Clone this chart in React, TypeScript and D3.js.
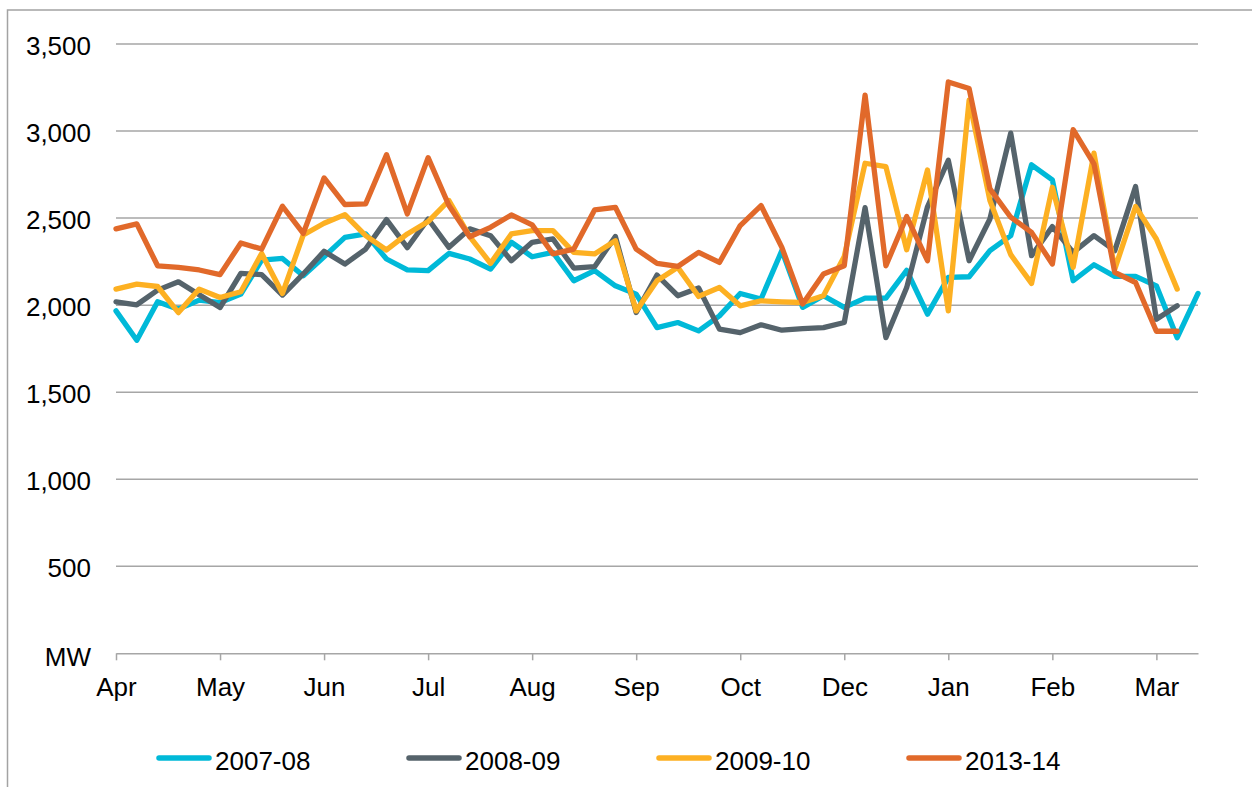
import React, { useEffect, useRef } from 'react';
import * as d3 from 'd3';

// weekly peak demand, MW (53 weekly categories, Apr -> Mar)
const s2007 = [1967, 1798, 2019, 1977, 2029, 2015, 2063, 2259, 2268, 2169, 2278, 2389, 2409, 2265, 2202, 2198, 2297, 2265, 2207, 2361, 2278, 2303, 2140, 2198, 2111, 2063, 1871, 1900, 1852, 1938, 2067, 2035, 2313, 1987, 2054, 1987, 2040, 2040, 2200, 1948, 2159, 2163, 2313, 2399, 2806, 2720, 2140, 2232, 2165, 2165, 2111, 1813, 2067];
const s2008 = [2019, 2002, 2086, 2134, 2059, 1986, 2182, 2175, 2058, 2179, 2309, 2236, 2322, 2491, 2330, 2495, 2332, 2438, 2399, 2255, 2361, 2380, 2213, 2221, 2394, 1958, 2173, 2054, 2098, 1862, 1842, 1887, 1856, 1865, 1871, 1900, 2560, 1813, 2101, 2565, 2832, 2255, 2495, 2988, 2284, 2451, 2303, 2399, 2313, 2681, 1919, 1996];
const s2009 = [2092, 2121, 2107, 1957, 2092, 2044, 2077, 2297, 2067, 2403, 2470, 2520, 2399, 2317, 2409, 2480, 2601, 2394, 2240, 2409, 2428, 2428, 2303, 2294, 2370, 1967, 2140, 2217, 2050, 2101, 1996, 2025, 2019, 2015, 2054, 2280, 2815, 2795, 2318, 2776, 1967, 3177, 2601, 2290, 2125, 2677, 2217, 2873, 2207, 2566, 2380, 2092];
const s2013 = [2438, 2467, 2226, 2217, 2202, 2175, 2357, 2322, 2568, 2412, 2731, 2578, 2582, 2864, 2524, 2847, 2572, 2393, 2447, 2518, 2461, 2294, 2322, 2547, 2562, 2322, 2240, 2222, 2303, 2245, 2457, 2572, 2332, 2006, 2179, 2226, 3206, 2226, 2509, 2255, 3282, 3244, 2668, 2505, 2418, 2236, 3008, 2812, 2188, 2130, 1850, 1850];

const seriesNames = ['2007-08', '2008-09', '2009-10', '2013-14'];
const seriesColors = ['#00b9d8', '#55636b', '#fdb022', '#e1692a'];

const weekCount = 53;
const monthLabels = ['Apr', 'May', 'Jun', 'Jul', 'Aug', 'Sep', 'Oct', 'Dec', 'Jan', 'Feb', 'Mar'];
const labelEvery = 5;

const yTicks = [0, 500, 1000, 1500, 2000, 2500, 3000, 3500];
const yTickLabels = ['MW', '500', '1,000', '1,500', '2,000', '2,500', '3,000', '3,500'];

const App = () => {
    const svgRef = useRef(null);

    useEffect(() => {
        const width = 1252,
            height = 787;
        const font = '"Liberation Sans", Arial, sans-serif';
        const gridColor = '#a6a6a6';

        const svg = d3.select(svgRef.current).attr('width', width).attr('height', height);
        svg.selectAll('*').remove();

        // chart frame (cropped on the right and bottom)
        svg.append('rect')
            .attr('x', 7.5)
            .attr('y', 10)
            .attr('width', 1300)
            .attr('height', 900)
            .attr('fill', 'white')
            .attr('stroke', '#a3a3a3')
            .attr('stroke-width', 1.5);

        const x = d3
            .scalePoint()
            .domain(d3.range(weekCount))
            .range([116, 1198]);

        const y = d3.scaleLinear().domain([0, 3500]).range([653.3, 44]);

        // horizontal gridlines
        svg.append('g')
            .selectAll('line')
            .data(yTicks.filter((d) => d > 0))
            .enter()
            .append('line')
            .attr('x1', 116)
            .attr('x2', 1198)
            .attr('y1', (d) => y(d))
            .attr('y2', (d) => y(d))
            .attr('stroke', gridColor)
            .attr('stroke-width', 1.5);

        // y labels
        svg.append('g')
            .selectAll('text')
            .data(yTicks)
            .enter()
            .append('text')
            .attr('x', 91)
            .attr('y', (d) => y(d) + (d === 0 ? 13 : 11))
            .attr('text-anchor', 'end')
            .attr('font-family', font)
            .attr('font-size', 26)
            .attr('fill', '#000')
            .text((d, i) => yTickLabels[i]);

        // x axis
        const xAxis = d3
            .axisBottom(x)
            .tickValues(d3.range(0, weekCount, labelEvery))
            .tickSizeInner(7)
            .tickSizeOuter(0)
            .tickPadding(17)
            .tickFormat((d) => monthLabels[d / labelEvery]);

        const ax = svg.append('g').attr('transform', `translate(0,${y(0)})`).call(xAxis);
        ax.select('.domain').attr('stroke', gridColor).attr('stroke-width', 1.5);
        ax.selectAll('.tick line').attr('stroke', gridColor).attr('stroke-width', 1.5);
        ax.selectAll('.tick text')
            .attr('font-family', font)
            .attr('font-size', 26)
            .attr('fill', '#000');

        // series lines
        const line = d3
            .line()
            .x((d, i) => x(i))
            .y((d) => y(d));

        [s2007, s2008, s2009, s2013].forEach((values, k) => {
            svg.append('path')
                .datum(values)
                .attr('d', line)
                .attr('fill', 'none')
                .attr('stroke', seriesColors[k])
                .attr('stroke-width', 5.3)
                .attr('stroke-linejoin', 'round')
                .attr('stroke-linecap', 'round');
        });

        // legend
        const legend = svg.append('g').attr('transform', 'translate(159,758)');
        const item = legend
            .selectAll('g')
            .data(seriesNames)
            .enter()
            .append('g')
            .attr('transform', (d, i) => `translate(${i * 250},0)`);

        item.append('line')
            .attr('x1', 0)
            .attr('x2', 50)
            .attr('stroke', (d, i) => seriesColors[i])
            .attr('stroke-width', 5.5)
            .attr('stroke-linecap', 'round');

        item.append('text')
            .attr('x', 56)
            .attr('y', 12)
            .attr('font-family', font)
            .attr('font-size', 26)
            .attr('fill', '#000')
            .text((d) => d);
    }, []);

    return <svg ref={svgRef} style={{ position: 'absolute', left: 0, top: 0 }}></svg>;
};

export default App;
